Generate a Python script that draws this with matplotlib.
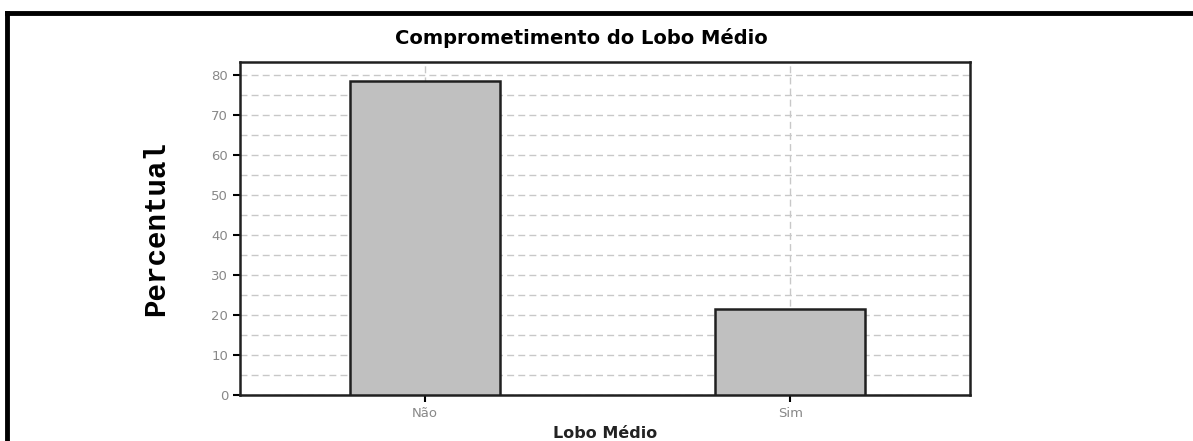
import matplotlib.pyplot as plt
import numpy as np
from matplotlib.lines import Line2D
from matplotlib.font_manager import FontProperties

categorias = ['Não', 'Sim']
percentual = [78.5, 21.5]
yticks = [0, 10, 20, 30, 40, 50, 60, 70, 80]

fig = plt.figure(figsize=(11.93, 4.41), dpi=100)
ax = fig.add_axes([0.2012, 0.1032, 0.612, 0.7562])

# moldura externa (so topo e lado esquerdo aparecem)
fig.add_artist(Line2D([7 / 1193, 7 / 1193], [0, 1 - 13 / 441], color='black', lw=3.5,
                      transform=fig.transFigure, solid_capstyle='projecting'))
fig.add_artist(Line2D([7 / 1193, 1], [1 - 13 / 441, 1 - 13 / 441], color='black', lw=3.5,
                      transform=fig.transFigure, solid_capstyle='projecting'))

x = np.arange(len(categorias))
ax.bar(x, percentual, width=0.41, color='#c0c0c0', edgecolor='#202020', linewidth=1.8, zorder=3)

ax.set_xlim(-0.507, 1.493)
ax.set_ylim(0, 83.25)
ax.set_xticks(x)
ax.set_xticklabels(categorias)
ax.set_yticks(yticks)
ax.set_yticks(np.arange(5, 85, 10), minor=True)

ax.grid(axis='y', which='both', linestyle=(0, (5, 3)), color='#c8c8c8', linewidth=1.0, zorder=0)
ax.grid(axis='x', which='major', linestyle=(0, (5, 3)), color='#c8c8c8', linewidth=1.0, zorder=0)

ax.tick_params(axis='both', which='major', direction='out', length=5, width=1.5,
               colors='black', labelcolor='#888888', labelsize=9.5)
ax.tick_params(axis='y', which='minor', length=0)

for s in ax.spines.values():
    s.set_linewidth(1.8)
    s.set_color('#202020')

ax.set_title('Comprometimento do Lobo Médio', fontsize=14, fontweight='bold', pad=13, x=0.468)
ax.set_xlabel('Lobo Médio', fontsize=11.5, fontweight='bold', color='#222222', labelpad=4)

mono = FontProperties(family=['Liberation Mono', 'Courier New', 'DejaVu Sans Mono'],
                      weight='bold', size=21)
ax.set_ylabel('Percentual', fontproperties=mono, labelpad=30)

fig.savefig('out.png', dpi=100)
